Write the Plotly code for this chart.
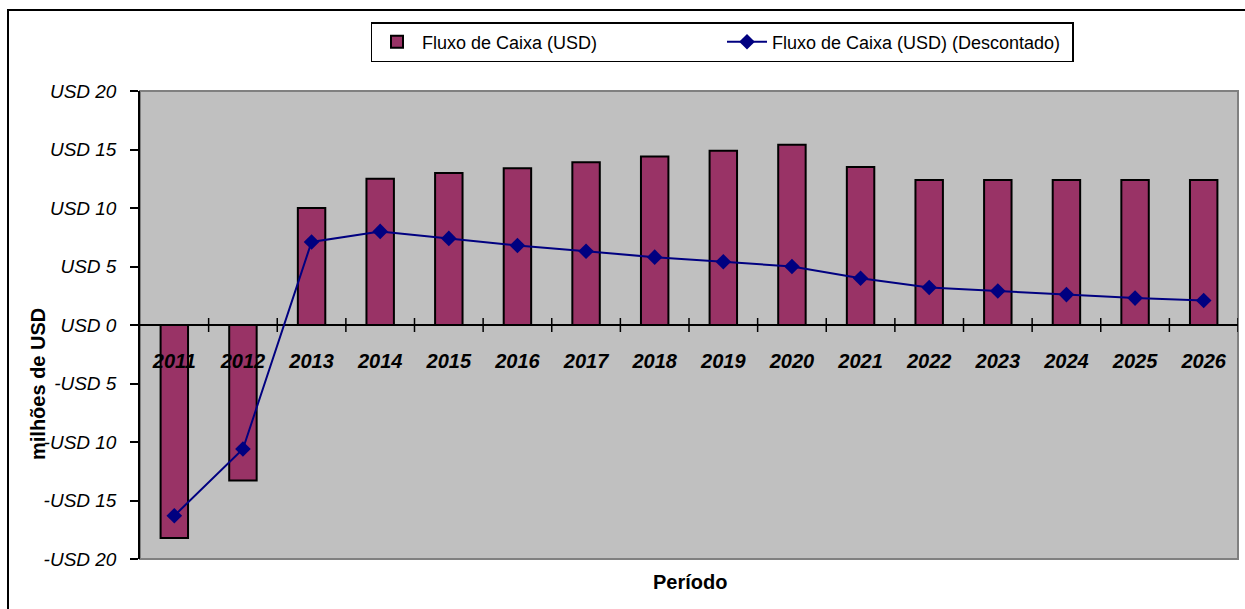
import plotly.graph_objects as go

# Cash flow per year, in millions of USD
anos = ["2011", "2012", "2013", "2014", "2015", "2016", "2017", "2018",
        "2019", "2020", "2021", "2022", "2023", "2024", "2025", "2026"]
fluxo_caixa = [-18.2, -13.3, 10.0, 12.5, 13.0, 13.4, 13.9, 14.4,
               14.9, 15.4, 13.5, 12.4, 12.4, 12.4, 12.4, 12.4]
fluxo_descontado = [-16.3, -10.6, 7.1, 8.0, 7.4, 6.8, 6.3, 5.8,
                    5.4, 5.0, 4.0, 3.2, 2.9, 2.6, 2.3, 2.1]
y_ticks = [-20, -15, -10, -5, 0, 5, 10, 15, 20]
y_tick_labels = ["-USD 20", "-USD 15", "-USD 10", "-USD 5", "USD 0",
                 "USD 5", "USD 10", "USD 15", "USD 20"]

FONT = "Arial, Liberation Sans, sans-serif"

W, H = 1245, 609
ML, MR, MT, MB = 140, 7, 91, 50
PW = W - ML - MR
PH = H - MT - MB


def px_x(p):
    return (p - ML) / PW


def px_y(p):
    return (H - MB - p) / PH


fig = go.Figure()

fig.add_trace(go.Bar(
    x=anos, y=fluxo_caixa, name="Fluxo de Caixa (USD)",
    marker=dict(color="#993366", line=dict(color="black", width=2)),
))
fig.add_trace(go.Scatter(
    x=anos, y=fluxo_descontado, name="Fluxo de Caixa (USD) (Descontado)",
    mode="lines+markers",
    line=dict(color="#000080", width=2),
    marker=dict(symbol="diamond", size=12, color="#000080"),
))

shapes = []
# plot area frame (grey shadow edges)
shapes.append(dict(type="rect", xref="paper", yref="paper", x0=0, x1=1, y0=0, y1=1,
                   line=dict(color="#808080", width=2), layer="below"))
# outer chart frame
shapes.append(dict(type="rect", xref="paper", yref="paper",
                   x0=px_x(8), x1=px_x(1252), y0=px_y(616), y1=px_y(10),
                   line=dict(color="black", width=2)))
# category boundary ticks crossing the zero line
for i in range(1, len(anos) + 1):
    shapes.append(dict(type="line", xref="x", yref="y",
                       x0=i - 0.5, x1=i - 0.5, y0=-0.6, y1=0.6,
                       line=dict(color="black", width=1.5)))

annotations = [
    dict(text="<b>milhões de USD</b>", xref="paper", yref="paper",
         x=px_x(38), y=px_y(384), xanchor="center", yanchor="middle",
         showarrow=False, textangle=-90,
         font=dict(family=FONT, size=20, color="black")),
    dict(text="<b>Período</b>", xref="paper", yref="paper",
         x=px_x(690), y=px_y(582), xanchor="center", yanchor="middle",
         showarrow=False,
         font=dict(family=FONT, size=20, color="black")),
]

fig.update_layout(
    width=W, height=H,
    margin=dict(l=ML, r=MR, t=MT, b=MB),
    paper_bgcolor="white", plot_bgcolor="#C0C0C0",
    bargap=0.6,
    showlegend=True,
    legend=dict(orientation="h", x=px_x(722), y=px_y(22), xanchor="center", yanchor="top",
                bgcolor="white", bordercolor="black", borderwidth=1.5,
                font=dict(family=FONT, size=18, color="black"),
                itemwidth=40, entrywidth=295, traceorder="normal",
                tracegroupgap=0),
    shapes=shapes,
    annotations=annotations,
    xaxis=dict(type="category", anchor="free", position=0.5,
               range=[-0.5, len(anos) - 0.5],
               showline=False, showgrid=False, zeroline=False, ticks="",
               tickfont=dict(family=FONT, size=20, color="black", weight="bold", style="italic"),
               ticklabelstandoff=22),
    yaxis=dict(range=[-20, 20], tickvals=y_ticks, ticktext=y_tick_labels,
               showgrid=False, zeroline=True, zerolinecolor="black", zerolinewidth=1.5,
               showline=True, linecolor="black", linewidth=1.5,
               ticks="outside", ticklen=8, tickcolor="black", tickwidth=1.5,
               ticklabelstandoff=10,
               tickfont=dict(family=FONT, size=19, color="black", style="italic")),
    font=dict(family=FONT),
)

fig.write_html("out.html")
